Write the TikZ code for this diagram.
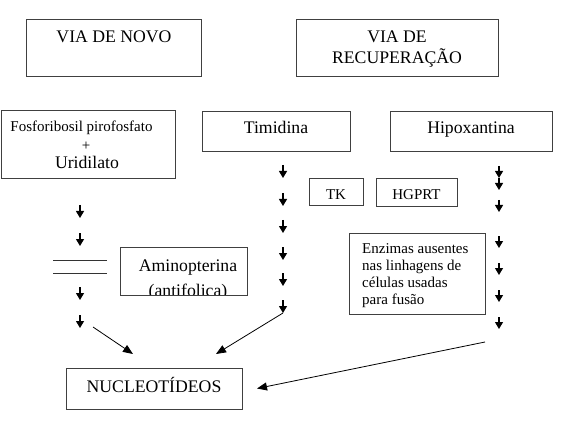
\documentclass[tikz,border=0pt]{standalone}
\usepackage{fontspec}
\setmainfont{Liberation Serif}
\usetikzlibrary{arrows.meta}
\newcommand{\mainfs}{\fontsize{17.7}{21}\selectfont}
\newcommand{\smallfs}{\fontsize{15}{17}\selectfont}
\begin{document}
\begin{tikzpicture}[x=1pt,y=-1pt,
  box/.style={draw=black!75, line width=1pt, inner sep=0pt, outer sep=0pt},
  lbl/.style={inner sep=0pt, anchor=base, font=\mainfs},
  slbl/.style={inner sep=0pt, anchor=base, font=\smallfs},
  sarrow/.style={line width=1.1pt, -{Triangle[length=7pt,width=8pt]}},
  darrow/.style={line width=0.8pt, -{Triangle[length=10pt,width=8pt]}},
  barline/.style={line width=0.9pt, draw=black!80}]
\useasboundingbox (0,0) rectangle (562,422);

% boxes
\node[box, minimum width=175pt, minimum height=57pt] (novo) at (113.5,48.5) {};
\node[lbl] (novot) at (114,43) {VIA DE NOVO};

\node[box, minimum width=202pt, minimum height=57pt] (recup) at (397,48.5) {};
\node[lbl] (recupt1) at (397,43) {VIA DE};
\node[lbl] (recupt2) at (397,64) {RECUPERAÇÃO};

\node[box, minimum width=174pt, minimum height=68pt] (fosfo) at (88,145) {};
\node[slbl] (fosfot1) at (81.5,132) {Fosforibosil pirofosfato};
\node[slbl] (fosfot2) at (86,151) {+};
\node[lbl] (fosfot3) at (87,169) {Uridilato};

\node[box, minimum width=148pt, minimum height=40pt] (timid) at (276,132) {};
\node[lbl] (timidt) at (276,134) {Timidina};

\node[box, minimum width=162pt, minimum height=40pt] (hipox) at (471,132) {};
\node[lbl] (hipoxt) at (471,134) {Hipoxantina};

\node[box, minimum width=54pt, minimum height=27pt] (tk) at (336,192.5) {};
\node[slbl] (tkt) at (336,200) {TK};

\node[box, minimum width=81pt, minimum height=28pt] (hgprt) at (416.5,193) {};
\node[slbl] (hgprtt) at (416.5,200) {HGPRT};

\node[box, minimum width=136pt, minimum height=81pt] (enz) at (417,273.5) {};
\node[slbl, anchor=base west] (enzt1) at (362,253) {Enzimas ausentes};
\node[slbl, anchor=base west] (enzt2) at (362,270) {nas linhagens de};
\node[slbl, anchor=base west] (enzt3) at (362,287) {células usadas};
\node[slbl, anchor=base west] (enzt4) at (362,304) {para fusão};

\begin{scope}
  \clip (120,247) rectangle (247,295);
  \node[lbl] (aminot1) at (188,271) {Aminopterina};
  \node[lbl] (aminot2) at (188,296) {(antifolica)};
\end{scope}
\node[box, minimum width=127pt, minimum height=48pt] (amino) at (183.5,271) {};

\node[box, minimum width=176pt, minimum height=41pt] (nucl) at (154,388.5) {};
\node[lbl] (nuclt) at (154,392) {NUCLEOTÍDEOS};

% blocking double line
\coordinate (b1a) at (53,260); \coordinate (b1b) at (107,260);
\coordinate (b2a) at (53,273); \coordinate (b2b) at (107,273);
\draw[barline] (b1a) -- (b1b);
\draw[barline] (b2a) -- (b2b);

% small arrows
\foreach \y [count=\i] in {205,233,287,315} {
  \coordinate (La\i) at (80,\y); \coordinate (Lb\i) at (80,\y+13);
  \draw[sarrow] (La\i) -- (Lb\i);
}
\foreach \y [count=\i] in {165,193,220,247,273,300} {
  \coordinate (Ma\i) at (283,\y); \coordinate (Mb\i) at (283,\y+13);
  \draw[sarrow] (Ma\i) -- (Mb\i);
}
\foreach \y [count=\i] in {166,178,200,236,263,290,317} {
  \coordinate (Ra\i) at (499,\y); \coordinate (Rb\i) at (499,\y+12);
  \draw[sarrow] (Ra\i) -- (Rb\i);
}

% diagonal arrows
\coordinate (d1s) at (93,327); \coordinate (d1e) at (133,354);
\draw[darrow] (d1s) -- (d1e);
\coordinate (d2s) at (283,313); \coordinate (d2e) at (216,354);
\draw[darrow] (d2s) -- (d2e);
\coordinate (d3s) at (485,342);
\draw[darrow] (d3s) -- ([xshift=15pt]nucl.east);
\end{tikzpicture}
\end{document}
